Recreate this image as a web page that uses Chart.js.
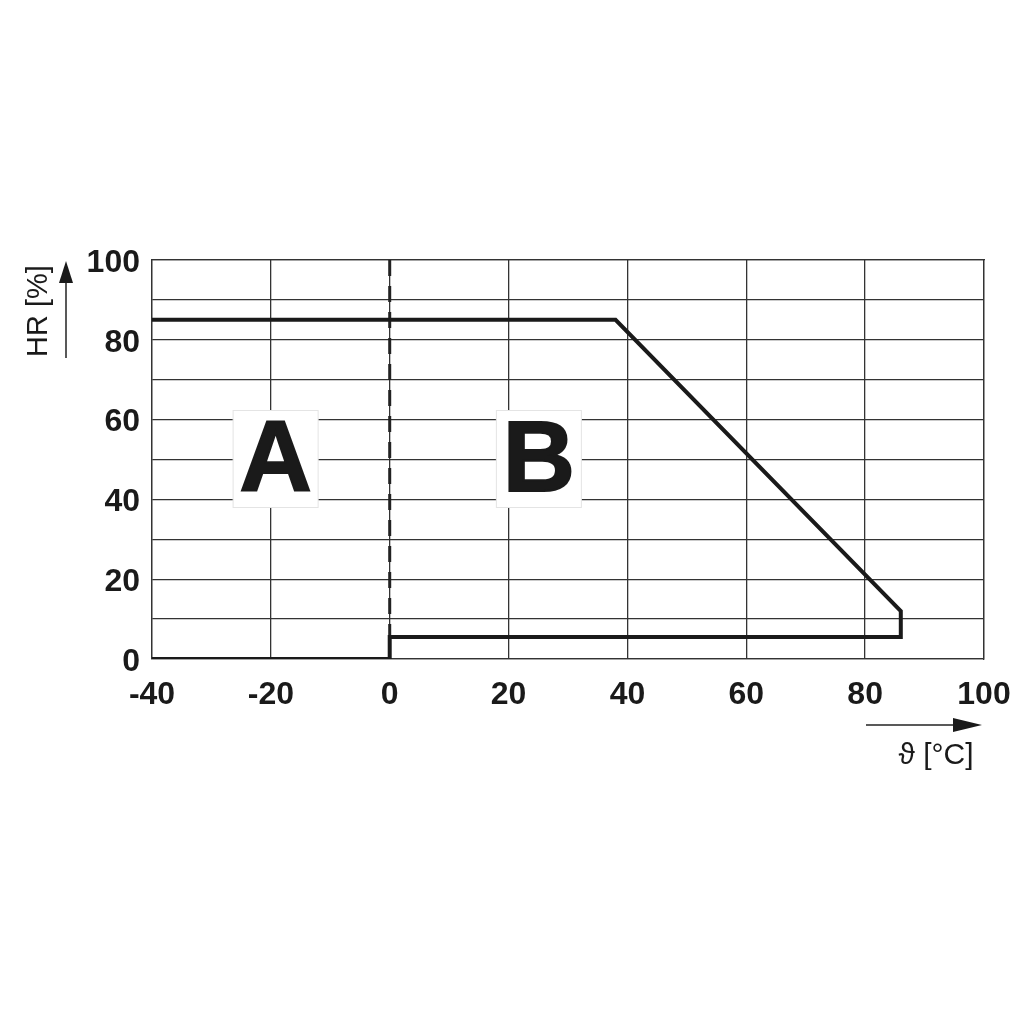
<!DOCTYPE html>
<html><head><meta charset="utf-8">
<script src="https://cdn.jsdelivr.net/npm/chart.js@4/dist/chart.umd.min.js"></script>
<style>html,body{margin:0;padding:0;background:#fff}#c{display:block}</style>
</head><body>
<canvas id="c" width="1024" height="1024"></canvas>
<script>
const curveX = [-40, 38, 86, 86, 0, 0, -40];
const curveY = [85, 85, 12, 5.5, 5.5, 0, 0];
const dashX = [0, 0];
const dashY = [100, 5.5];
const xTicks = [-40, -20, 0, 20, 40, 60, 80, 100];
const yTicks = [0, 20, 40, 60, 80, 100];
const regionLabels = ['A', 'B'];
const regionX = [-19.2, 25.1];
const regionY = [50, 50];
const yTitle = 'HR [%]';
const xTitle = 'ϑ [°C]';

const FONT = '"Liberation Sans", Arial, Helvetica, sans-serif';

const overlay = {
  id: 'overlay',
  afterDatasetsDraw(chart) {
    const ctx = chart.ctx, xs = chart.scales.x, ys = chart.scales.y;
    ctx.save();
    ctx.font = 'bold 100px ' + FONT;
    ctx.textAlign = 'center'; ctx.textBaseline = 'middle';
    regionLabels.forEach((t, i) => {
      const cx = xs.getPixelForValue(regionX[i]), cy = ys.getPixelForValue(regionY[i]);
      ctx.fillStyle = '#fff';
      ctx.fillRect(cx - 42.5, cy - 49, 85, 97);
      ctx.strokeStyle = '#e4e4e4'; ctx.lineWidth = 1;
      ctx.strokeRect(cx - 42.5, cy - 49, 85, 97);
      ctx.fillStyle = '#1a1a1a';
      ctx.strokeStyle = '#1a1a1a'; ctx.lineWidth = 2; ctx.lineJoin = 'miter';
      ctx.fillText(t, cx, cy + 4);
      ctx.strokeText(t, cx, cy + 4);
    });
    ctx.restore();
  },
  afterDraw(chart) {
    const ctx = chart.ctx, a = chart.chartArea;
    ctx.save();
    ctx.strokeStyle = '#222'; ctx.fillStyle = '#1a1a1a'; ctx.lineWidth = 1.5;
    const ax = 66;
    ctx.beginPath(); ctx.moveTo(ax, a.top + 98); ctx.lineTo(ax, a.top + 20); ctx.stroke();
    ctx.beginPath(); ctx.moveTo(ax, a.top + 1); ctx.lineTo(ax - 7, a.top + 23); ctx.lineTo(ax + 7, a.top + 23); ctx.closePath(); ctx.fill();
    ctx.save();
    ctx.translate(39, a.top + 51);
    ctx.rotate(-Math.PI / 2);
    ctx.font = '29px ' + FONT; ctx.textAlign = 'center'; ctx.textBaseline = 'middle';
    ctx.fillText(yTitle, 0, 0);
    ctx.restore();
    const ay = 725;
    ctx.beginPath(); ctx.moveTo(866, ay); ctx.lineTo(960, ay); ctx.stroke();
    ctx.beginPath(); ctx.moveTo(982, ay); ctx.lineTo(953, ay - 7); ctx.lineTo(953, ay + 7); ctx.closePath(); ctx.fill();
    ctx.font = '30px ' + FONT; ctx.textAlign = 'center'; ctx.textBaseline = 'middle';
    ctx.fillText(xTitle, 936, 756);
    ctx.restore();
  }
};

new Chart(document.getElementById('c'), {
  type: 'scatter',
  data: {
    datasets: [
      { data: curveX.map((x, i) => ({ x, y: curveY[i] })), showLine: true, borderColor: '#1a1a1a', borderWidth: 4, pointRadius: 0, fill: false, tension: 0, borderJoinStyle: 'miter' },
      { data: dashX.map((x, i) => ({ x, y: dashY[i] })), showLine: true, borderColor: '#222', borderWidth: 3, borderDash: [16, 10], pointRadius: 0, fill: false }
    ]
  },
  options: {
    responsive: false, animation: false,
    layout: { padding: { left: 0, top: 260, right: 40, bottom: 0 } },
    plugins: { legend: { display: false }, tooltip: { enabled: false } },
    scales: {
      x: {
        type: 'linear', min: -40, max: 100,
        afterBuildTicks: s => { s.ticks = xTicks.map(v => ({ value: v })); },
        afterFit: s => { s.height = 365; s.paddingRight = 0; s.paddingLeft = 0; },
        grid: { color: '#333', lineWidth: 1.3, drawTicks: false },
        border: { display: true, color: '#333', width: 1.3 },
        ticks: { padding: 17, autoSkip: false, color: '#1a1a1a', font: { family: FONT, size: 32, weight: 'bold' }, maxRotation: 0 }
      },
      y: {
        type: 'linear', min: 0, max: 100,
        afterBuildTicks: s => { const t = []; for (let v = 0; v <= 100; v += 10) t.push({ value: v }); s.ticks = t; },
        afterFit: s => { s.width = 152; s.paddingTop = 0; s.paddingBottom = 0; },
        grid: { color: '#333', lineWidth: 1.3, drawTicks: false },
        border: { display: true, color: '#333', width: 1.3 },
        ticks: { padding: 12, labelOffset: 3, autoSkip: false, color: '#1a1a1a', font: { family: FONT, size: 32, weight: 'bold' },
          callback: v => yTicks.includes(v) ? String(v) : '' }
      },
      x2: { position: 'top', type: 'linear', min: -40, max: 100, display: true,
        grid: { display: false }, ticks: { display: false }, border: { display: true, color: '#333', width: 1.3 },
        afterFit: s => { s.height = 0; } },
      y2: { position: 'right', type: 'linear', min: 0, max: 100, display: true,
        grid: { display: false }, ticks: { display: false }, border: { display: true, color: '#333', width: 1.3 },
        afterFit: s => { s.width = 0; } }
    }
  },
  plugins: [overlay]
});
</script>
</body></html>
